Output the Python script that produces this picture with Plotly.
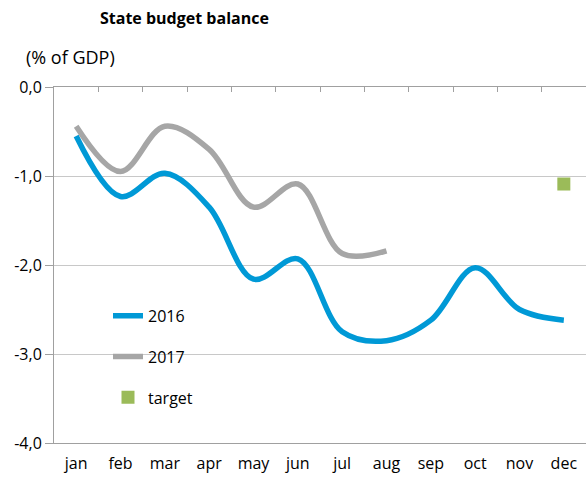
import plotly.graph_objects as go

months = ["jan", "feb", "mar", "apr", "may", "jun", "jul", "aug", "sep", "oct", "nov", "dec"]
y2016 = [-0.55, -1.23, -0.97, -1.35, -2.16, -1.93, -2.75, -2.85, -2.62, -2.03, -2.50, -2.62]
months_2017 = months[:8]
y2017 = [-0.44, -0.95, -0.44, -0.70, -1.35, -1.09, -1.87, -1.84]
target_month = ["dec"]
target_val = [-1.09]
y_ticks = [0, -1, -2, -3, -4]
y_tick_labels = ["0,0", "-1,0", "-2,0", "-3,0", "-4,0"]

FONT = "Open Sans"
fig = go.Figure()
fig.add_trace(go.Scatter(x=months, y=y2016, name="2016", mode="lines", legendgroup="a",
                         line=dict(color="#0099D6", width=5.5, shape="spline", smoothing=1.0)))
fig.add_trace(go.Scatter(x=months_2017, y=y2017, name="2017", mode="lines", legendgroup="b",
                         line=dict(color="#A6A6A6", width=5.5, shape="spline", smoothing=1.0)))
fig.add_trace(go.Scatter(x=target_month, y=target_val, name="target", mode="markers", legendgroup="c",
                         marker=dict(symbol="square", color="#9BBB59", size=13)))
# invisible trace to anchor the top tick axis
fig.add_trace(go.Scatter(x=[0, 12], y=[0, 0], xaxis="x2", mode="markers",
                         marker=dict(opacity=0), showlegend=False, hoverinfo="skip"))

fig.update_layout(
    width=587, height=483,
    margin=dict(l=54, r=1, t=87, b=40, autoexpand=False),
    paper_bgcolor="white", plot_bgcolor="white",
    font=dict(family=FONT, size=16, color="black"),
    title=dict(text="<b>State budget balance</b>", x=100/587, xanchor="left", y=1 - 18/483, yanchor="middle",
               font=dict(family=FONT, size=16)),
    annotations=[dict(text="(% of GDP)", xref="paper", yref="paper", x=(24 - 54) / 532, y=1 + 30/356,
                      xanchor="left", yanchor="middle", showarrow=False, font=dict(size=18))],
    xaxis=dict(type="category", range=[-0.5, 11.5], showline=True, linecolor="#A0A0A0", linewidth=1,
               ticks="", showgrid=False, tickfont=dict(size=16), automargin=False, ticklabelstandoff=6),
    xaxis2=dict(overlaying="x", side="top", range=[0, 12], tickvals=list(range(13)), ticks="inside",
                ticklen=5, tickcolor="#A0A0A0", showticklabels=False, showline=True, linecolor="#A0A0A0",
                showgrid=False, zeroline=False, automargin=False),
    yaxis=dict(range=[-4, 0], tickvals=y_ticks, ticktext=y_tick_labels, ticks="outside", ticklen=8,
               tickcolor="#A0A0A0", showline=True, linecolor="#A0A0A0", linewidth=1, showgrid=True,
               gridcolor="#C8C8C8", zeroline=False, tickfont=dict(size=16), automargin=False),
    legend=dict(x=(108 - 54) / 532, y=0.405, xanchor="left", yanchor="top", bgcolor="rgba(0,0,0,0)",
                font=dict(size=16), tracegroupgap=17),
    showlegend=True,
)
fig.write_html("out.html", config={"displayModeBar": False},
               post_script="document.body.style.margin='0';document.body.style.padding='0';")
